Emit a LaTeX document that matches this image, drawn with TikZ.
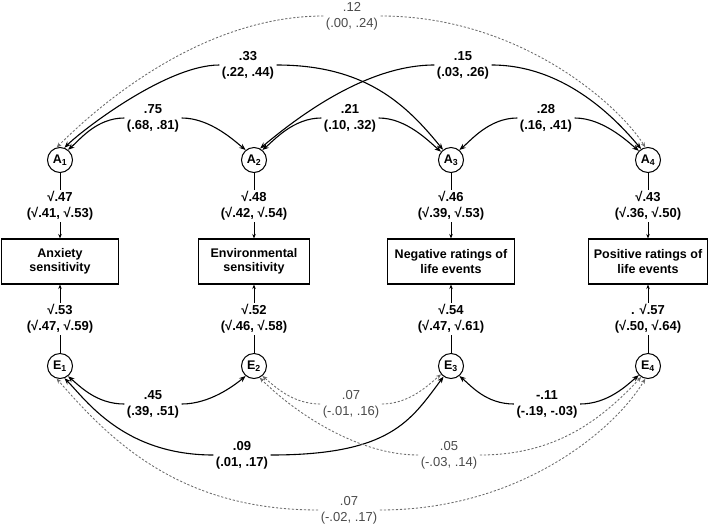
\documentclass[tikz,border=0pt]{standalone}
\usepackage{fontspec}
\setmainfont{Liberation Sans}
\usetikzlibrary{arrows.meta}
\definecolor{dgray}{HTML}{6A6A6A}
\definecolor{tgray}{HTML}{4A4A4A}
\begin{document}
\begin{tikzpicture}[x=1pt,y=-1pt,
  lat/.style={circle,draw,line width=1pt,minimum size=25pt,inner sep=0pt,font=\fontsize{12.5}{14}\selectfont\bfseries},
  obs/.style={draw,line width=1.1pt,minimum height=45pt,align=center,inner sep=2pt,font=\fontsize{12.5}{14.5}\selectfont\bfseries},
  lab/.style={align=center,inner sep=2.5pt,font=\fontsize{13}{16}\selectfont\bfseries},
  glab/.style={align=center,inner sep=2.5pt,text=tgray,font=\fontsize{13}{16}\selectfont},
  load/.style={lab,fill=white,inner sep=1.5pt},
  sarr/.style={line width=1.1pt,-{Stealth[length=6.5pt,width=5pt]}},
  darr/.style={line width=0.85pt,dgray,dash pattern=on 2.2pt off 1.8pt,-{Stealth[length=5pt,width=4pt]}},
  varr/.style={line width=0.9pt,-{Stealth[length=4.5pt,width=3.5pt]}},
]
\path[use as bounding box,fill=white] (0,0) rectangle (709,528);
% latent nodes
\node[lat] (A1) at (60,160) {A\textsubscript{1}};
\node[lat] (A2) at (254,160) {A\textsubscript{2}};
\node[lat] (A3) at (451,160) {A\textsubscript{3}};
\node[lat] (A4) at (648,160) {A\textsubscript{4}};
\node[lat] (E1) at (60,366) {E\textsubscript{1}};
\node[lat] (E2) at (254,366) {E\textsubscript{2}};
\node[lat] (E3) at (451,366) {E\textsubscript{3}};
\node[lat] (E4) at (648,366) {E\textsubscript{4}};
% observed
\node[obs,minimum width=117pt] (B1) at (60,261.5) {Anxiety\\sensitivity};
\node[obs,minimum width=111pt] (B2) at (254,261.5) {Environmental\\sensitivity};
\node[obs,minimum width=127pt] (B3) at (451,261.5) {Negative ratings of\\life events};
\node[obs,minimum width=119pt] (B4) at (648,261.5) {Positive ratings of\\life events};
% loadings
\draw[varr] (A1) -- node[load]{√.47\\(√.41, √.53)} (B1);
\draw[varr] (A2) -- node[load]{√.48\\(√.42, √.54)} (B2);
\draw[varr] (A3) -- node[load]{√.46\\(√.39, √.53)} (B3);
\draw[varr] (A4) -- node[load]{√.43\\(√.36, √.50)} (B4);
\draw[varr] (E1) -- node[load]{√.53\\(√.47, √.59)} (B1);
\draw[varr] (E2) -- node[load]{√.52\\(√.46, √.58)} (B2);
\draw[varr] (E3) -- node[load]{√.54\\(√.47, √.61)} (B3);
\draw[varr] (E4) -- node[load]{. √.57\\(√.50, √.64)} (B4);
% correlation labels
\node[glab] (L12) at (352,16) {.12\\(.00, .24)};
\node[lab] (L33) at (248,65) {.33\\(.22, .44)};
\node[lab] (L15) at (463,65) {.15\\(.03, .26)};
\node[lab] (L75) at (153,118) {.75\\(.68, .81)};
\node[lab] (L21) at (350,118) {.21\\(.10, .32)};
\node[lab] (L28) at (546,118) {.28\\(.16, .41)};
\node[lab] (L45) at (153,404) {.45\\(.39, .51)};
\node[glab] (L07a) at (351,404) {.07\\(-.01, .16)};
\node[lab] (L11) at (547,404) {-.11\\(-.19, -.03)};
\node[lab] (L09) at (242,455) {.09\\(.01, .17)};
\node[glab] (L05) at (449,455) {.05\\(-.03, .14)};
\node[glab] (L07b) at (349,510) {.07\\(-.02, .17)};
% top arcs
\draw[darr] (L12.west) .. controls +(-128,0) and +(32,-32) .. (A1.105);
\draw[darr] (L12.east) .. controls +(139,0) and +(-26.5,-42.4) .. (A4.102);
\draw[sarr] (L33.west) .. controls +(-53,0) and +(17,-17) .. (A1.70);
\draw[sarr] (L33.east) .. controls +(89,0) and +(-36.5,-45) .. (A3.128);
\draw[sarr] (L15.west) .. controls +(-68,0) and +(37.5,-31.5) .. (A2.62);
\draw[sarr] (L15.east) .. controls +(76,0) and +(-21,-25) .. (A4.122);
\draw[sarr] (L75.west) .. controls +(-28,0) and +(11.5,-9.6) .. (A1.52);
\draw[sarr] (L75.east) .. controls +(28,0) and +(-11.5,-9.6) .. (A2.130);
\draw[sarr] (L21.west) .. controls +(-28,0) and +(11.5,-9.6) .. (A2.50);
\draw[sarr] (L21.east) .. controls +(28,0) and +(-11.5,-9.6) .. (A3.140);
\draw[sarr] (L28.west) .. controls +(-28,0) and +(11.5,-9.6) .. (A3.50);
\draw[sarr] (L28.east) .. controls +(28,0) and +(-11.5,-9.6) .. (A4.135);
% bottom arcs
\draw[sarr] (L45.west) .. controls +(-28,0) and +(11.5,9.6) .. (E1.-52);
\draw[sarr] (L45.east) .. controls +(28,0) and +(-11.5,9.6) .. (E2.-130);
\draw[darr] (L07a.west) .. controls +(-28,0) and +(11.5,9.6) .. (E2.-50);
\draw[darr] (L07a.east) .. controls +(28,0) and +(-11.5,9.6) .. (E3.-140);
\draw[sarr] (L11.west) .. controls +(-28,0) and +(11.5,9.6) .. (E3.-50);
\draw[sarr] (L11.east) .. controls +(28,0) and +(-11.5,9.6) .. (E4.-135);
\draw[sarr] (L09.west) .. controls +(-90,0) and +(21.2,21.2) .. (E1.-70);
\draw[sarr] (L09.east) .. controls +(120,0) and +(-33,44) .. (E3.-125);
\draw[darr] (L05.west) .. controls +(-60,0) and +(35.4,35.4) .. (E2.-64);
\draw[darr] (L05.east) .. controls +(75,0) and +(-40.9,43.9) .. (E4.-122);
\draw[darr] (L07b.west) .. controls +(-140,0) and +(52.5,60.4) .. (E1.-105);
\draw[darr] (L07b.east) .. controls +(140,0) and +(-30.9,51.4) .. (E4.-102);
\end{tikzpicture}
\end{document}
